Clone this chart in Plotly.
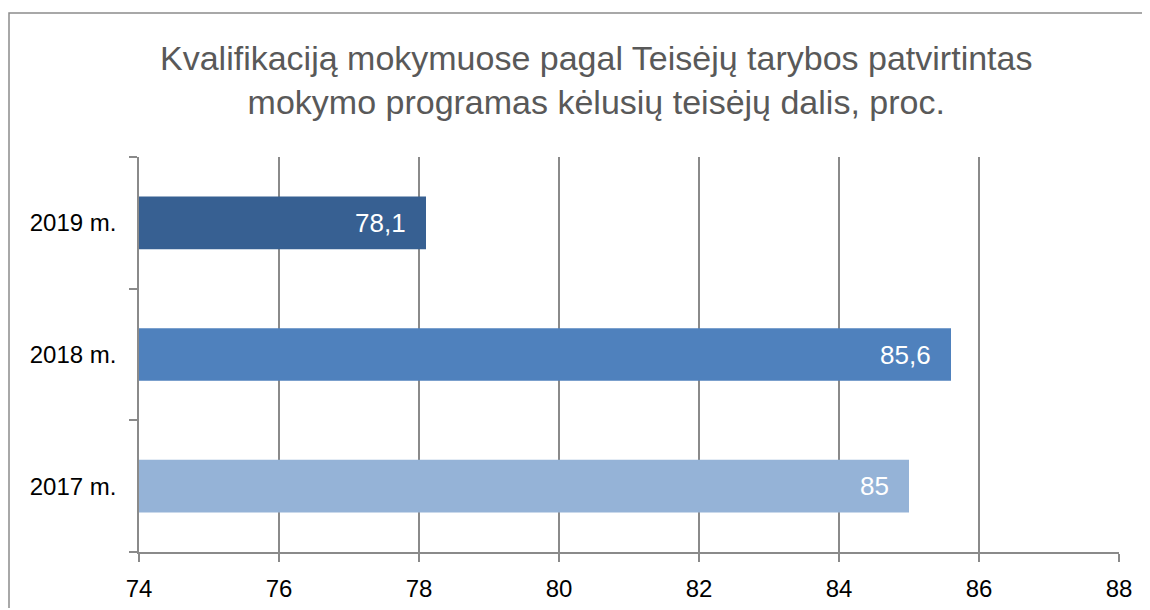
import plotly.graph_objects as go

categories = ["2017 m.", "2018 m.", "2019 m."]
values = [85, 85.6, 78.1]
labels = ["85", "85,6", "78,1"]
colors = ["#95B3D7", "#4F81BD", "#376092"]
x_ticks = [74, 76, 78, 80, 82, 84, 86, 88]

title_text = "Kvalifikaciją mokymuose pagal Teisėjų tarybos patvirtintas<br>mokymo programas kėlusių teisėjų dalis, proc."

FONT = "Liberation Sans"
GRID = "#8a8a8a"

# page body has an 8px margin; figure sits at (8, 8)
OFF = 8
W, H = 1142, 600
L, T = 139 - OFF, 157 - OFF
pw, ph = 980, 395
R, B = W - L - pw, H - T - ph


def px(page_x):
    return (page_x - OFF - L) / pw


def py(page_y):
    return (H - B - (page_y - OFF)) / ph


fig = go.Figure()
fig.add_trace(go.Bar(
    y=categories, x=[v - 74 for v in values], base=74,
    orientation="h", width=0.4,
    marker=dict(color=colors, line=dict(width=0)),
    hoverinfo="skip",
))

for c, v, t in zip(categories, values, labels):
    fig.add_annotation(x=v, y=c, xref="x", yref="y", text=t, showarrow=False,
                       xanchor="right", xshift=-18,
                       font=dict(family=FONT, size=26, color="white"))

fig.add_annotation(x=px(596), y=py(80), xref="paper", yref="paper", text=title_text,
                   showarrow=False, xanchor="center", yanchor="middle", align="center",
                   font=dict(family=FONT, size=34, color="#595959"))

fig.add_shape(type="rect", xref="paper", yref="paper",
              x0=px(9), x1=px(1250), y0=py(700), y1=py(13),
              line=dict(color="#8c8c8c", width=1.5), fillcolor="rgba(0,0,0,0)", layer="below")

fig.update_layout(
    width=W, height=H,
    margin=dict(l=L, r=R, t=T, b=B, pad=0),
    paper_bgcolor="white", plot_bgcolor="white",
    showlegend=False,
    xaxis=dict(range=[74, 88], tickvals=x_ticks, showgrid=True, gridcolor=GRID, gridwidth=1.5,
               showline=True, linecolor=GRID, linewidth=1.5, ticks="outside", ticklen=8,
               tickcolor=GRID, tickwidth=1.5, zeroline=False, automargin=False,
               tickfont=dict(family=FONT, size=24, color="black"), ticklabelstandoff=6),
    yaxis=dict(categoryorder="array", categoryarray=categories, showgrid=False,
               showline=True, linecolor=GRID, linewidth=1.5, ticks="outside", ticklen=8,
               tickcolor=GRID, tickwidth=1.5, tickson="boundaries", automargin=False,
               tickfont=dict(family=FONT, size=24, color="black"), ticklabelstandoff=16),
)

fig.write_html("out.html")
